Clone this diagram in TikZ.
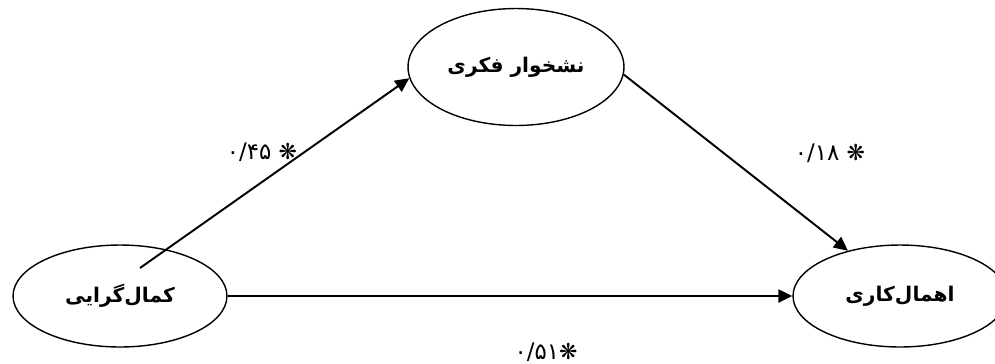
\documentclass[tikz,border=0pt]{standalone}
\usepackage{fontspec}
\usetikzlibrary{arrows.meta,shapes.geometric}
\TeXXeTstate=1
\newfontfamily\arabicfont[Script=Arabic]{DejaVu Sans}
\newfontfamily\starfont{DejaVu Sans}

\begin{document}
\begin{tikzpicture}[
  x=0.02cm, y=-0.02cm,
  var/.style={ellipse, draw, thick, inner sep=0pt, minimum width=4.28cm, minimum height=2.04cm, font=\arabicfont\bfseries\fontsize{11.5}{14}\selectfont},
  arr/.style={-{Triangle[length=8pt,width=7.5pt]}, line width=1.1pt},
  coef/.style={font=\arabicfont\fontsize{13}{15}\selectfont, inner sep=0pt}
]
\useasboundingbox (0,0) rectangle (995,363);

\node[var] (perf) at (120,296) {\beginR کمال‌گرایی\endR};
\node[var, minimum width=4.32cm, minimum height=2.34cm] (rum) at (516,67) {\beginR نشخوار فکری\endR};
\node[var] (proc) at (900,296) {\beginR اهمال‌کاری\endR};

\draw[arr] ([shift={(20,-28)}]perf.center) -- (rum.186);
\draw[arr] (rum.-4) -- (proc.139);
\draw[arr] (perf.east) -- (proc.west);

\node[coef] (c1) at (262,152) {۰/۴۵ {\starfont\fontsize{12.5}{14}\selectfont ❋}};
\node[coef] (c2) at (830,153) {۰/۱۸ {\starfont\fontsize{12.5}{14}\selectfont ❋}};
\node[coef] (c3) at (546,352) {۰/۵۱{\starfont\fontsize{12.5}{14}\selectfont ❋}};

\end{tikzpicture}
\end{document}
